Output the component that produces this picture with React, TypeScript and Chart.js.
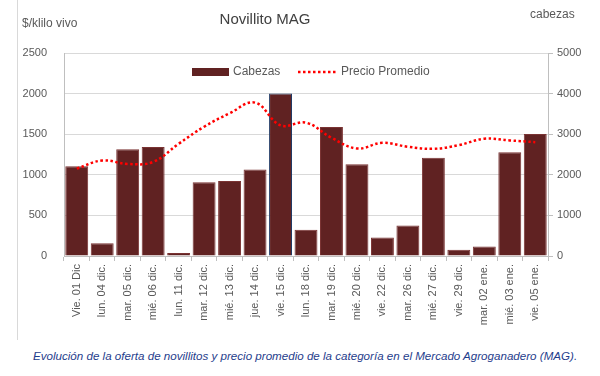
import React, { useEffect, useRef } from "react";
import { Chart, registerables } from "chart.js";
Chart.register(...registerables);

const categories = [
  "Vie. 01 Dic", "lun. 04 dic.", "mar. 05 dic.", "mié. 06 dic.", "lun. 11 dic.",
  "mar. 12 dic.", "mié. 13 dic.", "jue. 14 dic.", "vie. 15 dic.", "lun. 18 dic.",
  "mar. 19 dic.", "mié. 20 dic.", "vie. 22 dic.", "mar. 26 dic.", "mié. 27 dic.",
  "vie. 29 dic.", "mar. 02 ene.", "mié. 03 ene.", "vie. 05 ene.",
];
const cabezas = [2210, 314, 2632, 2682, 74, 1815, 1848, 2129, 4000, 644, 3177, 2261, 454, 751, 2418, 157, 231, 2558, 3003];
const precioPromedio = [1077, 1176, 1134, 1159, 1382, 1592, 1757, 1889, 1609, 1642, 1456, 1324, 1394, 1345, 1320, 1365, 1444, 1423, 1402];

const chartTitle = "Novillito MAG";
const leftAxisTitle = "$/klilo vivo";
const rightAxisTitle = "cabezas";
const barLabel = "Cabezas";
const lineLabel = "Precio Promedio";
const caption = "Evolución de la oferta de novillitos y precio promedio de la categoría en el Mercado Agroganadero (MAG).";

const BAR_COLOR = "#602222";
const LINE_COLOR = "#ff0000";
const TEXT_COLOR = "#595959";
const FONT = "'Liberation Sans', Arial, sans-serif";

const decorPlugin = {
  id: "decor",
  afterDraw(chart: any) {
    const ctx = chart.ctx;
    ctx.save();
    ctx.textBaseline = "middle";
    ctx.fillStyle = "#404040";
    ctx.font = `15px ${FONT}`;
    ctx.textAlign = "center";
    ctx.fillText(chartTitle, 265, 20);
    ctx.fillStyle = TEXT_COLOR;
    ctx.font = `12px ${FONT}`;
    ctx.textAlign = "left";
    ctx.fillText(leftAxisTitle, 22, 24);
    ctx.fillText(rightAxisTitle, 530, 15);
    // legend
    const ly = 72;
    ctx.fillStyle = BAR_COLOR;
    ctx.fillRect(192, ly - 4, 37, 8);
    ctx.fillStyle = TEXT_COLOR;
    ctx.font = `12px ${FONT}`;
    ctx.fillText(barLabel, 233, ly);
    ctx.strokeStyle = LINE_COLOR;
    ctx.lineWidth = 2.5;
    ctx.setLineDash([2.5, 2.5]);
    ctx.beginPath();
    ctx.moveTo(298, ly);
    ctx.lineTo(336, ly);
    ctx.stroke();
    ctx.setLineDash([]);
    ctx.fillText(lineLabel, 341, ly);
    ctx.restore();
  },
};

const plain = (v: any) => String(v);

export default function App() {
  const ref = useRef<HTMLCanvasElement>(null);
  useEffect(() => {
    if (!ref.current) return;
    const chart = new Chart(ref.current, {
      type: "bar",
      data: {
        labels: categories,
        datasets: [
          {
            type: "line",
            label: lineLabel,
            data: precioPromedio,
            yAxisID: "y",
            borderColor: LINE_COLOR,
            backgroundColor: LINE_COLOR,
            borderWidth: 2.5,
            borderDash: [2.5, 2.5],
            pointRadius: 0,
            tension: 0.4,
            fill: false,
            order: 0,
          } as any,
          {
            type: "bar",
            label: barLabel,
            data: cabezas,
            yAxisID: "y1",
            backgroundColor: BAR_COLOR,
            borderColor: categories.map((_, i) => (i === 8 ? "#1f3864" : "#7a3333")),
            borderWidth: 1,
            barPercentage: 0.9,
            categoryPercentage: 1,
            order: 1,
          } as any,
        ],
      },
      options: {
        responsive: false,
        animation: false,
        layout: { padding: { top: 53, left: 0, right: 0, bottom: 0 } },
        plugins: { legend: { display: false }, tooltip: { enabled: false }, title: { display: false } },
        scales: {
          x: {
            grid: { offset: true, drawOnChartArea: false, drawTicks: true, tickLength: 5, color: "#bfbfbf" },
            border: { color: "#bfbfbf" },
            ticks: {
              autoSkip: false,
              maxRotation: 90,
              minRotation: 90,
              padding: 3,
              color: TEXT_COLOR,
              font: { family: FONT, size: 11 },
            },
            afterFit(scale: any) { scale.height = 89; },
          },
          y: {
            position: "left",
            min: 0,
            max: 2500,
            ticks: { stepSize: 500, padding: 17, color: TEXT_COLOR, font: { family: FONT, size: 11 }, callback: plain },
            grid: { color: "#d9d9d9", drawTicks: false },
            border: { color: "#bfbfbf" },
            afterFit(scale: any) { scale.width = 64; },
          },
          y1: {
            position: "right",
            min: 0,
            max: 5000,
            ticks: { stepSize: 1000, padding: 4, color: TEXT_COLOR, font: { family: FONT, size: 11 }, callback: plain },
            grid: { drawOnChartArea: false, drawTicks: true, tickLength: 5, color: "#bfbfbf" },
            border: { color: "#bfbfbf" },
            afterFit(scale: any) { scale.width = 52; },
          },
        },
      },
      plugins: [decorPlugin],
    });
    return () => chart.destroy();
  }, []);

  return (
    <div style={{ position: "fixed", left: 0, top: 0, width: 600, height: 376, background: "#fff", overflow: "hidden" }}>
      <div style={{ position: "absolute", left: 17, top: 0, width: 1, height: 340, background: "#d9d9d9" }} />
      <canvas ref={ref} width={600} height={345} style={{ position: "absolute", left: 0, top: 0, width: 600, height: 345 }} />
      <div
        style={{
          position: "absolute",
          left: 33,
          top: 349,
          whiteSpace: "nowrap",
          fontFamily: FONT,
          fontStyle: "italic",
          fontSize: 11.6,
          color: "#1f3d8c",
        }}
      >
        {caption}
      </div>
    </div>
  );
}
